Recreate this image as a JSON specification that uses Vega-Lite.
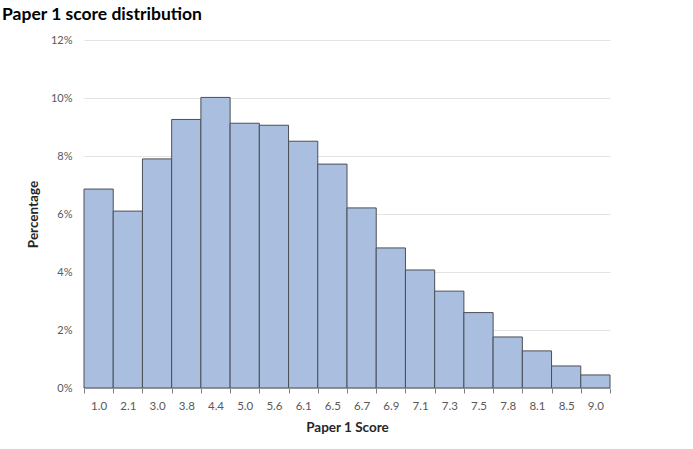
{
  "$schema": "https://vega.github.io/schema/vega-lite/v6.json",
  "autosize": "none",
  "width": 526,
  "height": 348,
  "padding": {"left": 84, "top": 40, "right": 83, "bottom": 61},
  "background": "white",
  "title": {
    "text": "Paper 1 score distribution",
    "anchor": "start",
    "frame": "group",
    "dx": -82,
    "offset": 11,
    "font": "Lato",
    "fontSize": 17.5,
    "fontWeight": "bold",
    "color": "#000000"
  },
  "data": {
    "values": [
      {"score": "1.0", "pct": 6.86},
      {"score": "2.1", "pct": 6.10},
      {"score": "3.0", "pct": 7.90},
      {"score": "3.8", "pct": 9.26},
      {"score": "4.4", "pct": 10.02},
      {"score": "5.0", "pct": 9.13},
      {"score": "5.6", "pct": 9.06},
      {"score": "6.1", "pct": 8.51},
      {"score": "6.5", "pct": 7.72},
      {"score": "6.7", "pct": 6.21},
      {"score": "6.9", "pct": 4.83},
      {"score": "7.1", "pct": 4.07},
      {"score": "7.3", "pct": 3.34},
      {"score": "7.5", "pct": 2.60},
      {"score": "7.8", "pct": 1.76},
      {"score": "8.1", "pct": 1.28},
      {"score": "8.5", "pct": 0.76},
      {"score": "9.0", "pct": 0.45}
    ]
  },
  "mark": {"type": "bar", "fill": "#aabfdf", "stroke": "#4a4f57", "strokeWidth": 1},
  "encoding": {
    "x": {
      "field": "score",
      "type": "ordinal",
      "sort": null,
      "scale": {"paddingInner": 0, "paddingOuter": 0},
      "axis": {
        "title": "Paper 1 Score",
        "titleFont": "Lato",
        "titleFontSize": 13.5,
        "titleFontWeight": "bold",
        "titleColor": "#262626",
        "titlePadding": 9,
        "labelAngle": 0,
        "labelFont": "Lato",
        "labelFontSize": 11.5,
        "labelColor": "#595959",
        "labelPadding": 7,
        "tickBand": "extent",
        "tickSize": 5,
        "tickColor": "#7f7f7f",
        "domain": true,
        "domainColor": "#d9d9d9",
        "grid": false
      }
    },
    "y": {
      "field": "pct",
      "type": "quantitative",
      "scale": {"domain": [0, 12]},
      "axis": {
        "title": "Percentage",
        "titleFont": "Lato",
        "titleFontSize": 13.5,
        "titleFontWeight": "bold",
        "titleColor": "#262626",
        "titlePadding": 10,
        "values": [0, 2, 4, 6, 8, 10, 12],
        "labelExpr": "datum.value + '%'",
        "labelFont": "Lato",
        "labelFontSize": 11,
        "labelColor": "#595959",
        "labelPadding": 12,
        "ticks": false,
        "domain": false,
        "grid": true,
        "gridColor": "#e3e3e3",
        "gridWidth": 1
      }
    }
  },
  "config": {"view": {"stroke": null}}
}
